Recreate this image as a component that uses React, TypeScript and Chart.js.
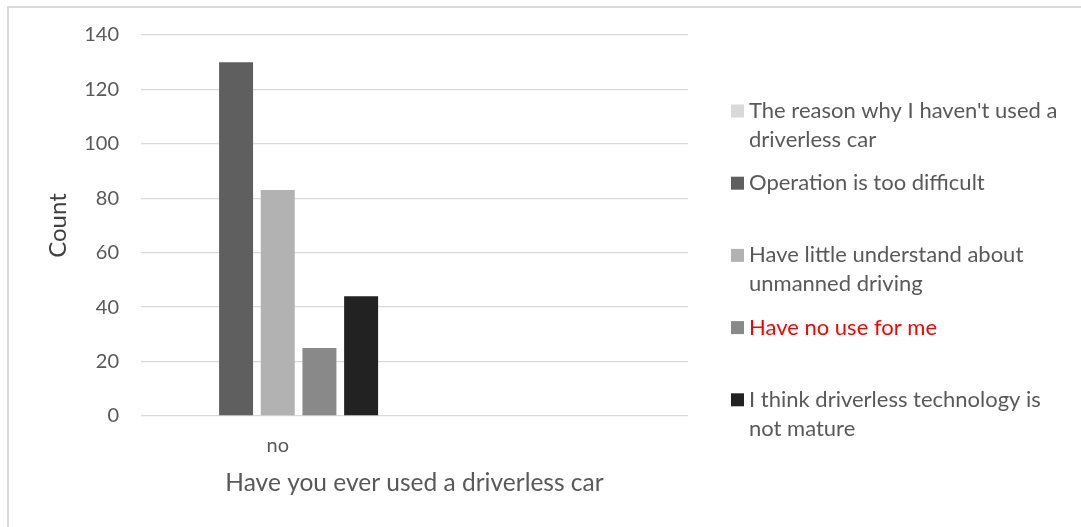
import React, { useEffect, useRef } from "react";
import { Chart, registerables } from "chart.js";

Chart.register(...registerables);

const categories = ["no", ""];
const seriesLabels: string[][] = [
  ["The reason why I haven't used a", "driverless car"],
  ["Operation is too difficult"],
  ["Have little understand about", "unmanned driving"],
  ["Have no use for me"],
  ["I think driverless technology is", "not mature"],
];
const reasonHeader: (number | null)[] = [null, null];
const operationTooDifficult: (number | null)[] = [130, null];
const littleUnderstanding: (number | null)[] = [83, null];
const noUseForMe: (number | null)[] = [25, null];
const notMature: (number | null)[] = [44, null];
const yTickValues = [0, 20, 40, 60, 80, 100, 120, 140];

const seriesColors = ["#d9d9d9", "#5f5f5f", "#b2b2b2", "#898989", "#222222"];
const legendTextColors = ["#595959", "#595959", "#595959", "#ff0000", "#595959"];

const FONT = "Lato, 'Open Sans', sans-serif";

const sideLegend = {
  id: "sideLegend",
  afterDraw(chart: any) {
    const ctx = chart.ctx as CanvasRenderingContext2D;
    ctx.save();
    ctx.font = `22px ${FONT}`;
    ctx.textBaseline = "alphabetic";
    ctx.textAlign = "left";
    chart.data.datasets.forEach((ds: any, i: number) => {
      const base = 118 + i * 72.2;
      ctx.fillStyle = ds.backgroundColor;
      ctx.fillRect(731, base - 13.5, 13, 13);
      ctx.fillStyle = legendTextColors[i];
      const lines: string[] = seriesLabels[i];
      lines.forEach((ln, j) => ctx.fillText(ln, 749, base + j * 29));
    });
    ctx.restore();
  },
};

export default function App() {
  const ref = useRef<HTMLCanvasElement | null>(null);
  useEffect(() => {
    if (!ref.current) return;
    const series = [reasonHeader, operationTooDifficult, littleUnderstanding, noUseForMe, notMature];
    const chart = new Chart(ref.current, {
      type: "bar",
      data: {
        labels: categories,
        datasets: series.map((d, i) => ({
          label: seriesLabels[i].join(" "),
          data: d,
          backgroundColor: seriesColors[i],
          borderWidth: 0,
          categoryPercentage: 0.762,
          barPercentage: 0.815,
        })),
      },
      options: {
        animation: false,
        responsive: false,
        layout: { padding: { top: 35, right: 393, bottom: 0, left: 0 } },
        plugins: { legend: { display: false }, tooltip: { enabled: false } },
        scales: {
          x: {
            grid: { display: false, drawTicks: false },
            border: { display: false },
            ticks: { color: "#595959", font: { family: FONT, size: 20 }, padding: 18 },
            title: {
              display: true,
              text: "Have you ever used a driverless car",
              color: "#595959",
              font: { family: FONT, size: 24.5 },
              padding: { top: 0, bottom: 29.5 },
            },
            afterFit: (s: any) => {
              s.height = 111;
            },
          },
          y: {
            min: 0,
            max: 140,
            afterBuildTicks: (s: any) => {
              s.ticks = yTickValues.map((v) => ({ value: v }));
            },
            grid: { color: "#d9d9d9", lineWidth: 1.3, drawTicks: false },
            border: { display: false },
            ticks: { color: "#595959", font: { family: FONT, size: 20 }, padding: 22 },
            title: {
              display: true,
              text: "Count",
              color: "#404040",
              font: { family: FONT, size: 24 },
              padding: { top: 44, bottom: 0 },
            },
            afterFit: (s: any) => {
              s.width = 141;
            },
          },
        },
      },
      plugins: [sideLegend],
    });
    return () => chart.destroy();
  }, []);

  return (
    <div style={{ position: "fixed", left: 0, top: 0, width: 1081, height: 527, background: "#fff", overflow: "hidden" }}>
      <canvas ref={ref} width={1081} height={527} style={{ position: "absolute", left: 0, top: 0, width: 1081, height: 527 }} />
      <div
        style={{
          position: "absolute",
          left: 7,
          top: 6,
          right: -10,
          bottom: -10,
          borderLeft: "2px solid #d9d9d9",
          borderTop: "2px solid #d9d9d9",
          pointerEvents: "none",
        }}
      />
    </div>
  );
}
